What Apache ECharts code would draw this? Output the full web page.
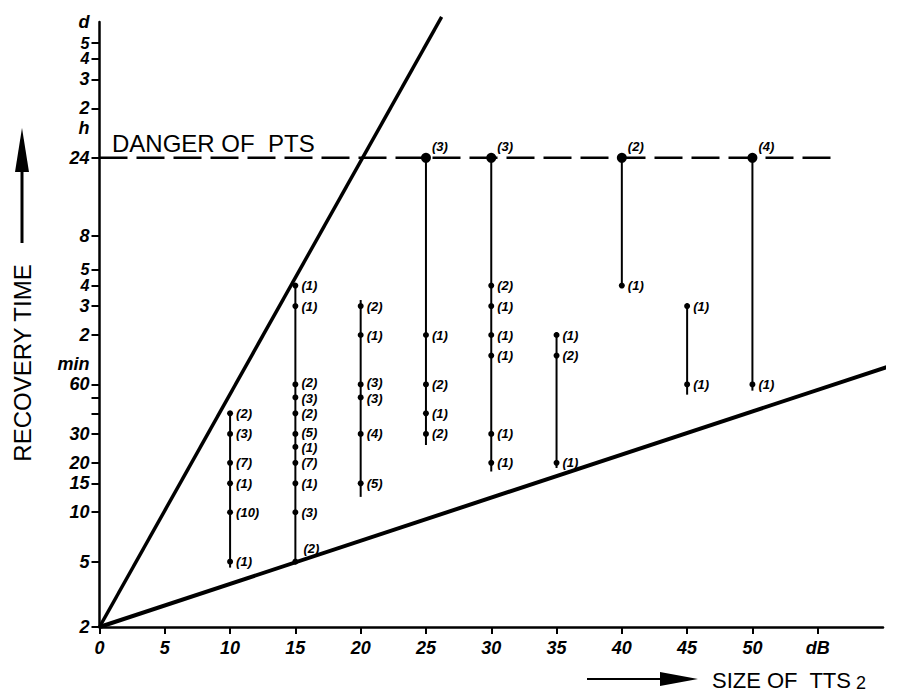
<!DOCTYPE html>
<html>
<head>
<meta charset="utf-8">
<script src="https://cdn.jsdelivr.net/npm/echarts@6/dist/echarts.min.js"></script>
<style>
html,body{margin:0;padding:0;background:#fff;}
#chart{width:917px;height:693px;}
</style>
</head>
<body>
<div id="chart"></div>
<script>
// ---------- data ----------
// recovery time in minutes, TTS2 in dB
const yTickValues = [2, 5, 10, 15, 20, 30, 60, 120, 180, 240, 300, 480, 1440, 2880, 4320, 5760, 7200];
const yTickTexts  = ['2','5','10','15','20','30','60','2','3','4','5','8','24','2','3','4','5'];
const yCrowdedTicks = [240, 300, 5760, 7200];
const yMinorTicks = [40, 50];
const yUnitValues = [80, 2200, 9670];
const yUnitTexts  = ['min', 'h', 'd'];
const xTickValues = [0, 5, 10, 15, 20, 25, 30, 35, 40, 45, 50, 55];
const xTickTexts  = ['0','5','10','15','20','25','30','35','40','45','50','dB'];

const ttsColumns  = [10, 15, 20, 25, 30, 35, 40, 45, 50];
const rangeTop    = [41, 240, 196, 1440, 1440, 125, 1440, 187, 1440];
const rangeBottom = [4.6, 5, 12.4, 25.7, 17.7, 18.6, 240, 52, 55];

const col10Times = [40, 30, 20, 15, 10, 5];
const col10Counts = [2, 3, 7, 1, 10, 1];
const col15Times = [240, 180, 60, 50, 40, 30, 25, 20, 15, 10, 5];
const col15Counts = [1, 1, 2, 3, 2, 5, 1, 7, 1, 3, 2];
const col20Times = [180, 120, 60, 50, 30, 15];
const col20Counts = [2, 1, 3, 3, 4, 5];
const col25Times = [1440, 120, 60, 40, 30];
const col25Counts = [3, 1, 2, 1, 2];
const col30Times = [1440, 240, 180, 120, 90, 30, 20];
const col30Counts = [3, 2, 1, 1, 1, 1, 1];
const col35Times = [120, 90, 20];
const col35Counts = [1, 2, 1];
const col40Times = [1440, 240];
const col40Counts = [2, 1];
const col45Times = [180, 60];
const col45Counts = [1, 1];
const col50Times = [1440, 60];
const col50Counts = [4, 1];

const steepLine   = [[0, 2], [26.2, 10400]];
const shallowLine = [[0, 2], [62.4, 87]];
const dangerLevel = 1440;
const dangerLine  = [[0, dangerLevel], [56.5, dangerLevel]];

// ---------- label placement (style) ----------
// [tts, time, dx, dy] : nudges for count labels that would collide
const labelNudges = [
  [15, 5, 2, -13],
  [15, 60, 0, -1.5], [15, 50, 0, 1], [15, 30, 0, -1.5], [15, 25, 0, 1],
  [20, 60, 0, -1.5], [20, 50, 0, 1]
];

// ---------- build ----------
const colTimes = [col10Times, col15Times, col20Times, col25Times, col30Times, col35Times, col40Times, col45Times, col50Times];
const colCounts = [col10Counts, col15Counts, col20Counts, col25Counts, col30Counts, col35Counts, col40Counts, col45Counts, col50Counts];

const labelFont = {fontFamily: 'Liberation Sans, Arial, sans-serif', fontStyle: 'italic', fontWeight: 'bold', color: '#000'};

const pointData = [];
ttsColumns.forEach((x, i) => {
  colTimes[i].forEach((t, j) => {
    const item = {value: [x, t, colCounts[i][j]]};
    const nudge = labelNudges.find(p => p[0] === x && p[1] === t);
    if (t === dangerLevel) {
      item.symbolSize = 10;
      item.label = {show: true, position: 'right', offset: [-2, -11]};
    } else if (nudge) {
      item.label = {show: true, position: 'right', offset: [nudge[2], nudge[3]]};
    }
    pointData.push(item);
  });
});
const rangeData = ttsColumns.map((x, i) => [x, rangeTop[i], rangeBottom[i]]);

const yLabelValues = yTickValues.concat(yUnitValues);
const yLabelTexts = yTickTexts.concat(yUnitTexts);
const near = (a, b) => Math.abs(a - b) / b < 1e-4;
function yLabel(v) {
  for (let i = 0; i < yLabelValues.length; i++) {
    if (near(v, yLabelValues[i])) {
      const crowded = yCrowdedTicks.some(c => near(v, c));
      return crowded ? '{s|' + yLabelTexts[i] + '}' : yLabelTexts[i];
    }
  }
  return '';
}
function xLabel(v) {
  for (let i = 0; i < xTickValues.length; i++) {
    if (Math.abs(v - xTickValues[i]) < 1e-6) return xTickTexts[i];
  }
  return '';
}

const chart = echarts.init(document.getElementById('chart'), null, {renderer: 'svg'});
const option = {
  animation: false,
  backgroundColor: '#fff',
  grid: {left: 99.5, right: 34, top: 22, bottom: 66, outerBoundsMode: 'none', containLabel: false},
  xAxis: {
    type: 'value', min: 0, max: 60, interval: 5,
    axisLine: {show: true, onZero: false, lineStyle: {color: '#000', width: 2.5}},
    axisTick: {show: true, customValues: xTickValues, length: 7, lineStyle: {color: '#000', width: 2}},
    axisLabel: Object.assign({customValues: xTickValues, formatter: xLabel, fontSize: 18, margin: 12}, labelFont),
    splitLine: {show: false}
  },
  yAxis: {
    type: 'log', logBase: 10, min: 2, max: 9670,
    axisLine: {show: true, onZero: false, lineStyle: {color: '#000', width: 2.5}},
    axisTick: {show: true, customValues: yTickValues.concat(yMinorTicks), length: 8, lineStyle: {color: '#000', width: 2}},
    axisLabel: Object.assign({customValues: yLabelValues, formatter: yLabel, fontSize: 18, lineHeight: 14, margin: 10,
      hideOverlap: false,
      rich: {s: Object.assign({fontSize: 16, lineHeight: 14}, labelFont)}}, labelFont),
    splitLine: {show: false}, minorTick: {show: false}
  },
  series: [
    {
      name: 'upper bound', type: 'line', data: steepLine, clip: false, symbol: 'none',
      lineStyle: {color: '#000', width: 3.5}, silent: true, z: 3
    },
    {
      name: 'lower bound', type: 'line', data: shallowLine, clip: false, symbol: 'none',
      lineStyle: {color: '#000', width: 4}, silent: true, z: 3
    },
    {
      name: 'danger of PTS', type: 'line', data: dangerLine, clip: false, symbol: 'none',
      lineStyle: {color: '#000', width: 2.5, type: [28, 9]}, silent: true, z: 2
    },
    {
      name: 'range', type: 'custom', data: rangeData, encode: {x: 0, y: [1, 2]}, z: 4,
      renderItem: function (params, api) {
        const x = api.value(0);
        const p1 = api.coord([x, api.value(1)]);
        const p2 = api.coord([x, api.value(2)]);
        return {type: 'line', shape: {x1: p1[0], y1: p1[1], x2: p2[0], y2: p2[1]},
                style: {stroke: '#000', lineWidth: 2}};
      }
    },
    {
      name: 'observations', type: 'scatter', data: pointData, symbol: 'circle', symbolSize: 6,
      itemStyle: {color: '#000', opacity: 1}, z: 5,
      label: Object.assign({show: true, position: 'right', distance: 3, fontSize: 13, lineHeight: 11,
        textBorderWidth: 0,
        formatter: p => '(' + p.value[2] + ')'}, labelFont)
    }
  ],
  graphic: [
    {type: 'text', left: 112, top: 131, style: {text: 'DANGER OF  PTS', font: '24px "Liberation Sans", Arial, sans-serif', fill: '#000'}},
    {type: 'text', x: 22, y: 363, rotation: Math.PI / 2,
     style: {text: 'RECOVERY TIME', font: '24px "Liberation Sans", Arial, sans-serif', fill: '#000', align: 'center', verticalAlign: 'middle'}},
    {type: 'line', shape: {x1: 22, y1: 243, x2: 22, y2: 168}, style: {stroke: '#000', lineWidth: 3}},
    {type: 'polygon', shape: {points: [[22, 128], [15, 172], [29, 172]]}, style: {fill: '#000'}},
    {type: 'line', shape: {x1: 587, y1: 679, x2: 664, y2: 679}, style: {stroke: '#000', lineWidth: 2}},
    {type: 'polygon', shape: {points: [[698, 679], [660, 672], [660, 686]]}, style: {fill: '#000'}},
    {type: 'text', left: 712, top: 669, style: {text: 'SIZE OF  TTS', font: '22px "Liberation Sans", Arial, sans-serif', fill: '#000'}},
    {type: 'text', left: 856, top: 674, style: {text: '2', font: '18px "Liberation Sans", Arial, sans-serif', fill: '#000'}}
  ]
};
chart.setOption(option);
</script>
</body>
</html>
